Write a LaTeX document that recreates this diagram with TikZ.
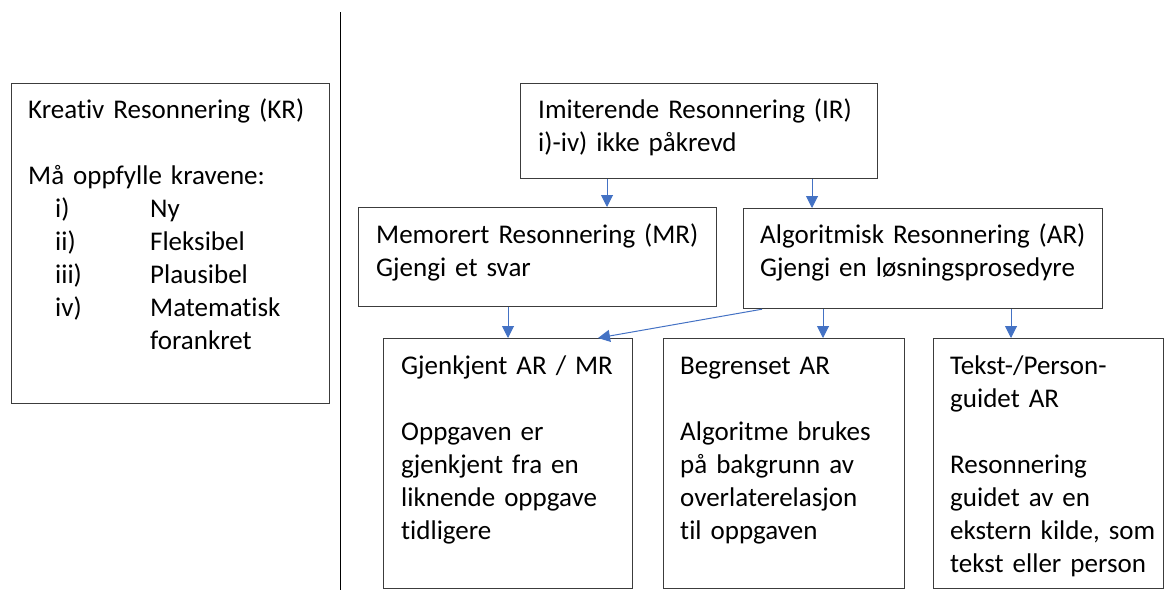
\documentclass[tikz,border=0pt]{standalone}
\usepackage{fontspec}
\setmainfont{Carlito}[Ligatures=CommonOff]
\usetikzlibrary{arrows.meta}
\definecolor{arrowblue}{HTML}{4472C4}
\definecolor{boxline}{HTML}{3C3C3C}
\tikzset{
  box/.style={draw=boxline, line width=1.2pt, inner sep=0pt, anchor=north west},
  txt/.style={anchor=base west, inner sep=0pt, align=left, text width=#1,
              font=\fontsize{27}{33}\selectfont},
  arr/.style={draw=arrowblue, line width=1pt,
              -{Triangle[width=12pt,length=12pt]}}
}
\newcommand{\itm}[2]{\hspace*{27pt}\makebox[95pt][l]{#1}#2}
\begin{document}
\begin{tikzpicture}[x=1pt,y=-1pt]
\useasboundingbox (0,0) rectangle (1165,590);

% divider
\draw[line width=0.8pt] (340,12) coordinate (top) -- (340,590) coordinate (bot);

% boxes
\node[box, minimum width=318pt, minimum height=320pt] (KR) at (11,83) {};
\node[box, minimum width=357pt, minimum height=95pt]  (IR) at (520,83) {};
\node[box, minimum width=358pt, minimum height=99pt]  (MR) at (358,207) {};
\node[box, minimum width=359pt, minimum height=100pt] (AR) at (743,208) {};
\node[box, minimum width=249pt, minimum height=250pt] (GJ) at (383,338) {};
\node[box, minimum width=241pt, minimum height=250pt] (BG) at (663,338) {};
\node[box, minimum width=230pt, minimum height=250pt] (TP) at (933,338) {};

% texts
\node[txt=300pt] (KRt) at (28,118) {Kreativ Resonnering (KR)\\[33pt]
  Må oppfylle kravene:\\
  \itm{i)}{Ny}\\
  \itm{ii)}{Fleksibel}\\
  \itm{iii)}{Plausibel}\\
  \itm{iv)}{Matematisk}\\
  \hspace*{122pt}forankret};
\node[txt=340pt] (IRt) at (538,118) {Imiterende Resonnering (IR)\\ i)-iv) ikke påkrevd};
\node[txt=340pt] (MRt) at (376,243) {Memorert Resonnering (MR)\\ Gjengi et svar};
\node[txt=340pt] (ARt) at (760,243) {Algoritmisk Resonnering (AR)\\ Gjengi en løsningsprosedyre};
\node[txt=230pt] (GJt) at (401,374) {Gjenkjent AR / MR\\[33pt]
  Oppgaven er\\ gjenkjent fra en\\ liknende oppgave\\ tidligere};
\node[txt=230pt] (BGt) at (680,374) {Begrenset AR\\[33pt]
  Algoritme brukes\\ på bakgrunn av\\ overlaterelasjon\\ til oppgaven};
\node[txt=220pt] (TPt) at (950,374) {Tekst-/Person-\\ guidet AR\\[33pt]
  Resonnering\\ guidet av en\\ ekstern kilde, som\\ tekst eller person};

% connectors
\draw[arr] ([xshift=87pt]IR.south west) -- ([xshift=249pt]MR.north west);
\draw[arr] ([xshift=292pt]IR.south west) -- ([xshift=69pt]AR.north west);
\draw[arr] ([xshift=150pt]MR.south west) -- ([xshift=125pt]GJ.north west);
\draw[arr] ([xshift=19pt]AR.south west) -- ([xshift=215pt]GJ.north west);
\draw[arr] ([xshift=80pt]AR.south west) -- ([xshift=160pt]BG.north west);
\draw[arr] ([xshift=268pt]AR.south west) -- ([xshift=78pt]TP.north west);
\end{tikzpicture}
\end{document}
